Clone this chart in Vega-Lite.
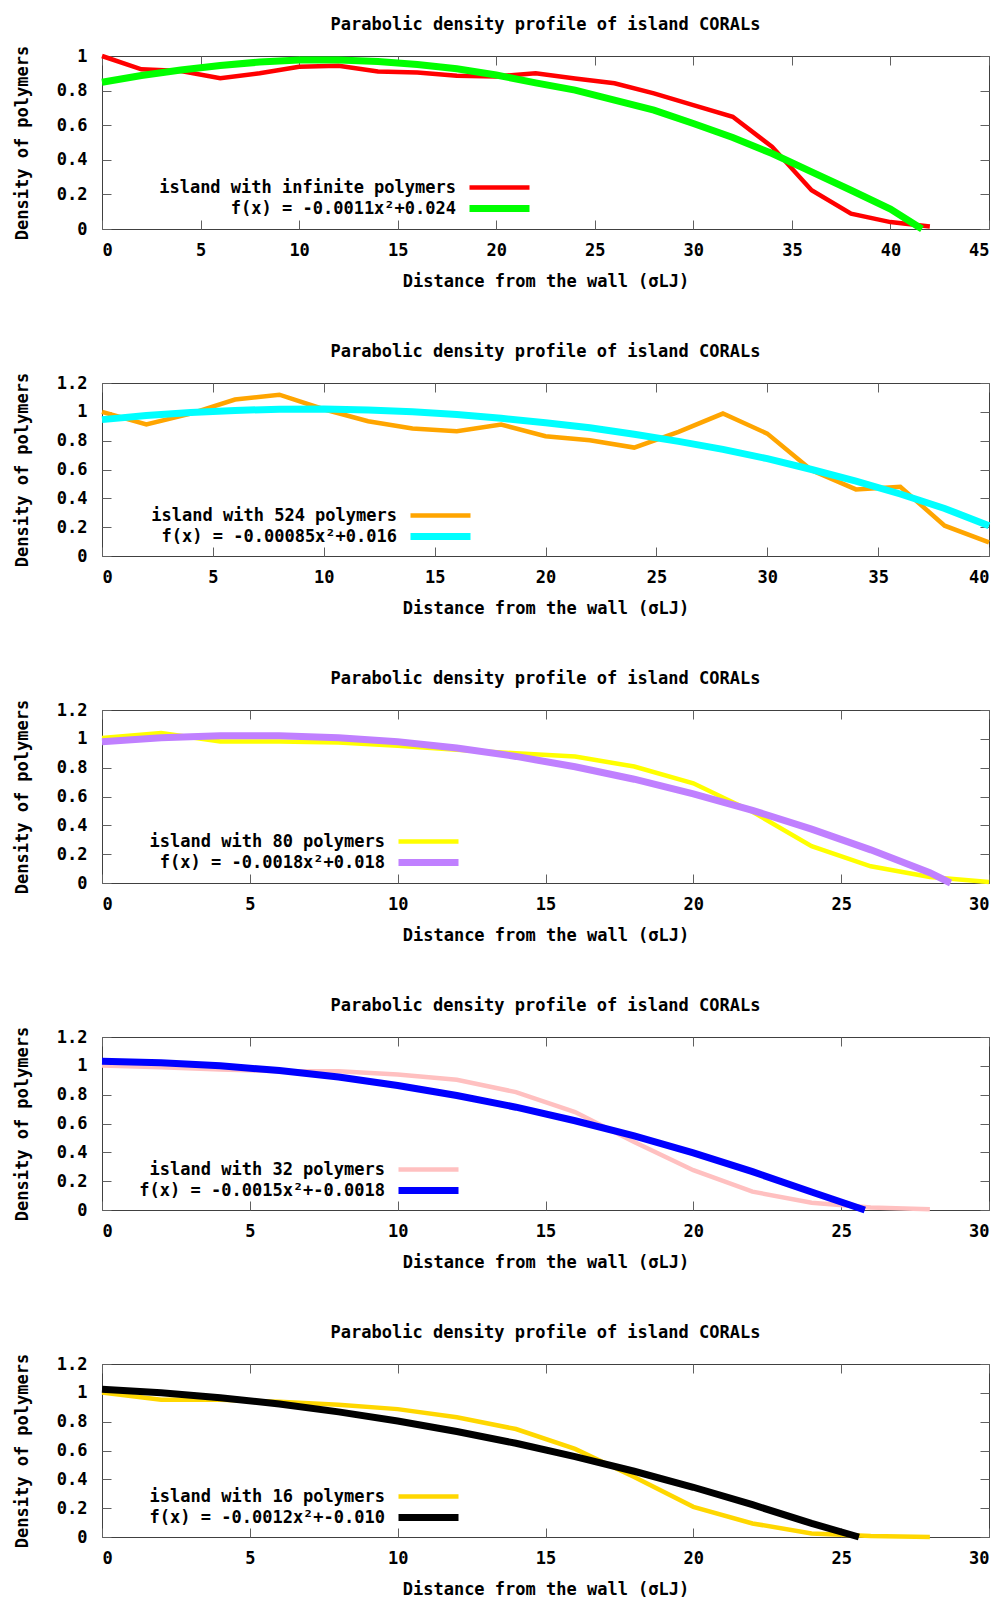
{
  "$schema": "https://vega.github.io/schema/vega-lite/v6.json",
  "padding": {"left": 12, "top": 15, "right": 5, "bottom": 5},
  "spacing": 52,
  "resolve": {"scale": {"color": "independent", "strokeWidth": "independent"}, "legend": {"color": "independent", "strokeWidth": "independent"}},
  "datasets": {
    "p1": [
      {"x": 0, "y": 1.0, "s": "island with infinite polymers"},
      {"x": 2, "y": 0.923, "s": "island with infinite polymers"},
      {"x": 4, "y": 0.913, "s": "island with infinite polymers"},
      {"x": 6, "y": 0.871, "s": "island with infinite polymers"},
      {"x": 8, "y": 0.9, "s": "island with infinite polymers"},
      {"x": 10, "y": 0.938, "s": "island with infinite polymers"},
      {"x": 12, "y": 0.944, "s": "island with infinite polymers"},
      {"x": 14, "y": 0.911, "s": "island with infinite polymers"},
      {"x": 16, "y": 0.905, "s": "island with infinite polymers"},
      {"x": 18, "y": 0.886, "s": "island with infinite polymers"},
      {"x": 20, "y": 0.882, "s": "island with infinite polymers"},
      {"x": 22, "y": 0.9, "s": "island with infinite polymers"},
      {"x": 24, "y": 0.87, "s": "island with infinite polymers"},
      {"x": 26, "y": 0.842, "s": "island with infinite polymers"},
      {"x": 28, "y": 0.784, "s": "island with infinite polymers"},
      {"x": 30, "y": 0.716, "s": "island with infinite polymers"},
      {"x": 32, "y": 0.649, "s": "island with infinite polymers"},
      {"x": 34, "y": 0.475, "s": "island with infinite polymers"},
      {"x": 36, "y": 0.224, "s": "island with infinite polymers"},
      {"x": 38, "y": 0.089, "s": "island with infinite polymers"},
      {"x": 40, "y": 0.04, "s": "island with infinite polymers"},
      {"x": 42, "y": 0.015, "s": "island with infinite polymers"},
      {"x": 0, "y": 0.848, "s": "f(x) = -0.0011x²+0.024"},
      {"x": 2, "y": 0.887, "s": "f(x) = -0.0011x²+0.024"},
      {"x": 4, "y": 0.919, "s": "f(x) = -0.0011x²+0.024"},
      {"x": 6, "y": 0.945, "s": "f(x) = -0.0011x²+0.024"},
      {"x": 8, "y": 0.965, "s": "f(x) = -0.0011x²+0.024"},
      {"x": 10, "y": 0.977, "s": "f(x) = -0.0011x²+0.024"},
      {"x": 12, "y": 0.977, "s": "f(x) = -0.0011x²+0.024"},
      {"x": 14, "y": 0.968, "s": "f(x) = -0.0011x²+0.024"},
      {"x": 16, "y": 0.951, "s": "f(x) = -0.0011x²+0.024"},
      {"x": 18, "y": 0.926, "s": "f(x) = -0.0011x²+0.024"},
      {"x": 20, "y": 0.89, "s": "f(x) = -0.0011x²+0.024"},
      {"x": 22, "y": 0.845, "s": "f(x) = -0.0011x²+0.024"},
      {"x": 24, "y": 0.803, "s": "f(x) = -0.0011x²+0.024"},
      {"x": 26, "y": 0.745, "s": "f(x) = -0.0011x²+0.024"},
      {"x": 28, "y": 0.687, "s": "f(x) = -0.0011x²+0.024"},
      {"x": 30, "y": 0.61, "s": "f(x) = -0.0011x²+0.024"},
      {"x": 32, "y": 0.529, "s": "f(x) = -0.0011x²+0.024"},
      {"x": 34, "y": 0.436, "s": "f(x) = -0.0011x²+0.024"},
      {"x": 36, "y": 0.33, "s": "f(x) = -0.0011x²+0.024"},
      {"x": 38, "y": 0.224, "s": "f(x) = -0.0011x²+0.024"},
      {"x": 40, "y": 0.115, "s": "f(x) = -0.0011x²+0.024"},
      {"x": 41.6, "y": 0.0, "s": "f(x) = -0.0011x²+0.024"}
    ],
    "p2": [
      {"x": 0, "y": 1.0, "s": "island with 524 polymers"},
      {"x": 2, "y": 0.912, "s": "island with 524 polymers"},
      {"x": 4, "y": 0.988, "s": "island with 524 polymers"},
      {"x": 6, "y": 1.085, "s": "island with 524 polymers"},
      {"x": 8, "y": 1.119, "s": "island with 524 polymers"},
      {"x": 10, "y": 1.018, "s": "island with 524 polymers"},
      {"x": 12, "y": 0.935, "s": "island with 524 polymers"},
      {"x": 14, "y": 0.884, "s": "island with 524 polymers"},
      {"x": 16, "y": 0.865, "s": "island with 524 polymers"},
      {"x": 18, "y": 0.912, "s": "island with 524 polymers"},
      {"x": 20, "y": 0.831, "s": "island with 524 polymers"},
      {"x": 22, "y": 0.803, "s": "island with 524 polymers"},
      {"x": 24, "y": 0.752, "s": "island with 524 polymers"},
      {"x": 26, "y": 0.861, "s": "island with 524 polymers"},
      {"x": 28, "y": 0.988, "s": "island with 524 polymers"},
      {"x": 30, "y": 0.849, "s": "island with 524 polymers"},
      {"x": 32, "y": 0.595, "s": "island with 524 polymers"},
      {"x": 34, "y": 0.462, "s": "island with 524 polymers"},
      {"x": 36, "y": 0.48, "s": "island with 524 polymers"},
      {"x": 38, "y": 0.21, "s": "island with 524 polymers"},
      {"x": 40, "y": 0.095, "s": "island with 524 polymers"},
      {"x": 0, "y": 0.946, "s": "f(x) = -0.00085x²+0.016"},
      {"x": 2, "y": 0.975, "s": "f(x) = -0.00085x²+0.016"},
      {"x": 4, "y": 0.995, "s": "f(x) = -0.00085x²+0.016"},
      {"x": 6, "y": 1.01, "s": "f(x) = -0.00085x²+0.016"},
      {"x": 8, "y": 1.018, "s": "f(x) = -0.00085x²+0.016"},
      {"x": 10, "y": 1.02, "s": "f(x) = -0.00085x²+0.016"},
      {"x": 12, "y": 1.013, "s": "f(x) = -0.00085x²+0.016"},
      {"x": 14, "y": 1.0, "s": "f(x) = -0.00085x²+0.016"},
      {"x": 16, "y": 0.982, "s": "f(x) = -0.00085x²+0.016"},
      {"x": 18, "y": 0.955, "s": "f(x) = -0.00085x²+0.016"},
      {"x": 20, "y": 0.925, "s": "f(x) = -0.00085x²+0.016"},
      {"x": 22, "y": 0.89, "s": "f(x) = -0.00085x²+0.016"},
      {"x": 24, "y": 0.845, "s": "f(x) = -0.00085x²+0.016"},
      {"x": 26, "y": 0.795, "s": "f(x) = -0.00085x²+0.016"},
      {"x": 28, "y": 0.74, "s": "f(x) = -0.00085x²+0.016"},
      {"x": 30, "y": 0.675, "s": "f(x) = -0.00085x²+0.016"},
      {"x": 32, "y": 0.6, "s": "f(x) = -0.00085x²+0.016"},
      {"x": 34, "y": 0.52, "s": "f(x) = -0.00085x²+0.016"},
      {"x": 36, "y": 0.43, "s": "f(x) = -0.00085x²+0.016"},
      {"x": 38, "y": 0.33, "s": "f(x) = -0.00085x²+0.016"},
      {"x": 40, "y": 0.21, "s": "f(x) = -0.00085x²+0.016"}
    ],
    "p3": [
      {"x": 0, "y": 1.005, "s": "island with 80 polymers"},
      {"x": 2, "y": 1.04, "s": "island with 80 polymers"},
      {"x": 4, "y": 0.982, "s": "island with 80 polymers"},
      {"x": 6, "y": 0.982, "s": "island with 80 polymers"},
      {"x": 8, "y": 0.975, "s": "island with 80 polymers"},
      {"x": 10, "y": 0.952, "s": "island with 80 polymers"},
      {"x": 12, "y": 0.924, "s": "island with 80 polymers"},
      {"x": 14, "y": 0.9, "s": "island with 80 polymers"},
      {"x": 16, "y": 0.877, "s": "island with 80 polymers"},
      {"x": 18, "y": 0.808, "s": "island with 80 polymers"},
      {"x": 20, "y": 0.692, "s": "island with 80 polymers"},
      {"x": 22, "y": 0.494, "s": "island with 80 polymers"},
      {"x": 24, "y": 0.255, "s": "island with 80 polymers"},
      {"x": 26, "y": 0.116, "s": "island with 80 polymers"},
      {"x": 28, "y": 0.042, "s": "island with 80 polymers"},
      {"x": 30, "y": 0.007, "s": "island with 80 polymers"},
      {"x": 0, "y": 0.979, "s": "f(x) = -0.0018x²+0.018"},
      {"x": 2, "y": 1.008, "s": "f(x) = -0.0018x²+0.018"},
      {"x": 4, "y": 1.022, "s": "f(x) = -0.0018x²+0.018"},
      {"x": 6, "y": 1.022, "s": "f(x) = -0.0018x²+0.018"},
      {"x": 8, "y": 1.008, "s": "f(x) = -0.0018x²+0.018"},
      {"x": 10, "y": 0.979, "s": "f(x) = -0.0018x²+0.018"},
      {"x": 12, "y": 0.936, "s": "f(x) = -0.0018x²+0.018"},
      {"x": 14, "y": 0.878, "s": "f(x) = -0.0018x²+0.018"},
      {"x": 16, "y": 0.806, "s": "f(x) = -0.0018x²+0.018"},
      {"x": 18, "y": 0.72, "s": "f(x) = -0.0018x²+0.018"},
      {"x": 20, "y": 0.619, "s": "f(x) = -0.0018x²+0.018"},
      {"x": 22, "y": 0.504, "s": "f(x) = -0.0018x²+0.018"},
      {"x": 24, "y": 0.374, "s": "f(x) = -0.0018x²+0.018"},
      {"x": 26, "y": 0.23, "s": "f(x) = -0.0018x²+0.018"},
      {"x": 28, "y": 0.072, "s": "f(x) = -0.0018x²+0.018"},
      {"x": 28.7, "y": 0.0, "s": "f(x) = -0.0018x²+0.018"}
    ],
    "p4": [
      {"x": 0, "y": 1.002, "s": "island with 32 polymers"},
      {"x": 2, "y": 0.99, "s": "island with 32 polymers"},
      {"x": 4, "y": 0.974, "s": "island with 32 polymers"},
      {"x": 6, "y": 0.963, "s": "island with 32 polymers"},
      {"x": 8, "y": 0.963, "s": "island with 32 polymers"},
      {"x": 10, "y": 0.94, "s": "island with 32 polymers"},
      {"x": 12, "y": 0.903, "s": "island with 32 polymers"},
      {"x": 14, "y": 0.818, "s": "island with 32 polymers"},
      {"x": 16, "y": 0.679, "s": "island with 32 polymers"},
      {"x": 18, "y": 0.472, "s": "island with 32 polymers"},
      {"x": 20, "y": 0.276, "s": "island with 32 polymers"},
      {"x": 22, "y": 0.127, "s": "island with 32 polymers"},
      {"x": 24, "y": 0.051, "s": "island with 32 polymers"},
      {"x": 26, "y": 0.018, "s": "island with 32 polymers"},
      {"x": 28, "y": 0.005, "s": "island with 32 polymers"},
      {"x": 0, "y": 1.032, "s": "f(x) = -0.0015x²+-0.0018"},
      {"x": 2, "y": 1.022, "s": "f(x) = -0.0015x²+-0.0018"},
      {"x": 4, "y": 1.001, "s": "f(x) = -0.0015x²+-0.0018"},
      {"x": 6, "y": 0.967, "s": "f(x) = -0.0015x²+-0.0018"},
      {"x": 8, "y": 0.922, "s": "f(x) = -0.0015x²+-0.0018"},
      {"x": 10, "y": 0.864, "s": "f(x) = -0.0015x²+-0.0018"},
      {"x": 12, "y": 0.794, "s": "f(x) = -0.0015x²+-0.0018"},
      {"x": 14, "y": 0.713, "s": "f(x) = -0.0015x²+-0.0018"},
      {"x": 16, "y": 0.619, "s": "f(x) = -0.0015x²+-0.0018"},
      {"x": 18, "y": 0.514, "s": "f(x) = -0.0015x²+-0.0018"},
      {"x": 20, "y": 0.396, "s": "f(x) = -0.0015x²+-0.0018"},
      {"x": 22, "y": 0.266, "s": "f(x) = -0.0015x²+-0.0018"},
      {"x": 24, "y": 0.125, "s": "f(x) = -0.0015x²+-0.0018"},
      {"x": 25.8, "y": 0.0, "s": "f(x) = -0.0015x²+-0.0018"}
    ],
    "p5": [
      {"x": 0, "y": 1.002, "s": "island with 16 polymers"},
      {"x": 2, "y": 0.952, "s": "island with 16 polymers"},
      {"x": 4, "y": 0.952, "s": "island with 16 polymers"},
      {"x": 6, "y": 0.938, "s": "island with 16 polymers"},
      {"x": 8, "y": 0.917, "s": "island with 16 polymers"},
      {"x": 10, "y": 0.887, "s": "island with 16 polymers"},
      {"x": 12, "y": 0.83, "s": "island with 16 polymers"},
      {"x": 14, "y": 0.749, "s": "island with 16 polymers"},
      {"x": 16, "y": 0.611, "s": "island with 16 polymers"},
      {"x": 18, "y": 0.416, "s": "island with 16 polymers"},
      {"x": 20, "y": 0.209, "s": "island with 16 polymers"},
      {"x": 22, "y": 0.094, "s": "island with 16 polymers"},
      {"x": 24, "y": 0.025, "s": "island with 16 polymers"},
      {"x": 26, "y": 0.007, "s": "island with 16 polymers"},
      {"x": 28, "y": 0.0, "s": "island with 16 polymers"},
      {"x": 0, "y": 1.025, "s": "f(x) = -0.0012x²+-0.010"},
      {"x": 2, "y": 1.0, "s": "f(x) = -0.0012x²+-0.010"},
      {"x": 4, "y": 0.966, "s": "f(x) = -0.0012x²+-0.010"},
      {"x": 6, "y": 0.922, "s": "f(x) = -0.0012x²+-0.010"},
      {"x": 8, "y": 0.868, "s": "f(x) = -0.0012x²+-0.010"},
      {"x": 10, "y": 0.805, "s": "f(x) = -0.0012x²+-0.010"},
      {"x": 12, "y": 0.732, "s": "f(x) = -0.0012x²+-0.010"},
      {"x": 14, "y": 0.65, "s": "f(x) = -0.0012x²+-0.010"},
      {"x": 16, "y": 0.558, "s": "f(x) = -0.0012x²+-0.010"},
      {"x": 18, "y": 0.456, "s": "f(x) = -0.0012x²+-0.010"},
      {"x": 20, "y": 0.345, "s": "f(x) = -0.0012x²+-0.010"},
      {"x": 22, "y": 0.224, "s": "f(x) = -0.0012x²+-0.010"},
      {"x": 24, "y": 0.094, "s": "f(x) = -0.0012x²+-0.010"},
      {"x": 25.6, "y": 0.0, "s": "f(x) = -0.0012x²+-0.010"}
    ]
  },
  "vconcat": [
    {
      "width": 887, "height": 173,
      "title": "Parabolic density profile of island CORALs",
      "data": {"name": "p1"},
      "layer": [
        {
          "transform": [{"filter": "datum.s == 'island with infinite polymers'"}],
          "mark": {"type": "line"},
          "encoding": {
            "x": {"field": "x", "type": "quantitative", "scale": {"domain": [0, 45], "nice": false}, "axis": {"values": [0, 5, 10, 15, 20, 25, 30, 35, 40, 45], "title": "Distance from the wall (σLJ)"}},
            "y": {"field": "y", "type": "quantitative", "scale": {"domain": [0, 1], "nice": false}, "axis": {"values": [0, 0.2, 0.4, 0.6, 0.8, 1], "title": "Density of polymers"}},
            "color": {"field": "s", "type": "nominal", "scale": {"domain": ["island with infinite polymers", "f(x) = -0.0011x²+0.024"], "range": ["#ff0000", "#00ff00"]}, "legend": {"legendX": 389, "legendY": 123}},
            "strokeWidth": {"field": "s", "type": "nominal", "scale": {"domain": ["island with infinite polymers", "f(x) = -0.0011x²+0.024"], "range": [4.5, 7]}, "legend": {"legendX": 389, "legendY": 123}}
          }
        },
        {
          "transform": [{"filter": "datum.s != 'island with infinite polymers'"}],
          "mark": {"type": "line"},
          "encoding": {
            "x": {"field": "x", "type": "quantitative", "axis": null},
            "y": {"field": "y", "type": "quantitative", "axis": null},
            "color": {"field": "s", "type": "nominal", "scale": {"domain": ["island with infinite polymers", "f(x) = -0.0011x²+0.024"], "range": ["#ff0000", "#00ff00"]}, "legend": {"legendX": 389, "legendY": 123}},
            "strokeWidth": {"field": "s", "type": "nominal", "scale": {"domain": ["island with infinite polymers", "f(x) = -0.0011x²+0.024"], "range": [4.5, 7]}, "legend": {"legendX": 389, "legendY": 123}}
          }
        },
        {
          "mark": {"type": "point", "opacity": 0},
          "encoding": {
            "x": {"field": "x", "type": "quantitative", "axis": {"orient": "top", "values": [0, 5, 10, 15, 20, 25, 30, 35, 40, 45], "labels": false, "title": null}},
            "y": {"field": "y", "type": "quantitative", "axis": {"orient": "right", "values": [0, 0.2, 0.4, 0.6, 0.8, 1], "labels": false, "title": null}}
          }
        }
      ],
      "resolve": {"axis": {"x": "independent", "y": "independent"}}
    },
    {
      "width": 887, "height": 173,
      "title": "Parabolic density profile of island CORALs",
      "data": {"name": "p2"},
      "layer": [
        {
          "transform": [{"filter": "datum.s == 'island with 524 polymers'"}],
          "mark": {"type": "line"},
          "encoding": {
            "x": {"field": "x", "type": "quantitative", "scale": {"domain": [0, 40], "nice": false}, "axis": {"values": [0, 5, 10, 15, 20, 25, 30, 35, 40], "title": "Distance from the wall (σLJ)"}},
            "y": {"field": "y", "type": "quantitative", "scale": {"domain": [0, 1.2], "nice": false}, "axis": {"values": [0, 0.2, 0.4, 0.6, 0.8, 1, 1.2], "title": "Density of polymers"}},
            "color": {"field": "s", "type": "nominal", "scale": {"domain": ["island with 524 polymers", "f(x) = -0.00085x²+0.016"], "range": ["#ffa500", "#00ffff"]}, "legend": {"legendX": 330, "legendY": 124}},
            "strokeWidth": {"field": "s", "type": "nominal", "scale": {"domain": ["island with 524 polymers", "f(x) = -0.00085x²+0.016"], "range": [4.5, 7]}, "legend": {"legendX": 330, "legendY": 124}}
          }
        },
        {
          "transform": [{"filter": "datum.s != 'island with 524 polymers'"}],
          "mark": {"type": "line"},
          "encoding": {
            "x": {"field": "x", "type": "quantitative", "axis": null},
            "y": {"field": "y", "type": "quantitative", "axis": null},
            "color": {"field": "s", "type": "nominal", "scale": {"domain": ["island with 524 polymers", "f(x) = -0.00085x²+0.016"], "range": ["#ffa500", "#00ffff"]}, "legend": {"legendX": 330, "legendY": 124}},
            "strokeWidth": {"field": "s", "type": "nominal", "scale": {"domain": ["island with 524 polymers", "f(x) = -0.00085x²+0.016"], "range": [4.5, 7]}, "legend": {"legendX": 330, "legendY": 124}}
          }
        },
        {
          "mark": {"type": "point", "opacity": 0},
          "encoding": {
            "x": {"field": "x", "type": "quantitative", "axis": {"orient": "top", "values": [0, 5, 10, 15, 20, 25, 30, 35, 40], "labels": false, "title": null}},
            "y": {"field": "y", "type": "quantitative", "axis": {"orient": "right", "values": [0, 0.2, 0.4, 0.6, 0.8, 1, 1.2], "labels": false, "title": null}}
          }
        }
      ],
      "resolve": {"axis": {"x": "independent", "y": "independent"}}
    },
    {
      "width": 887, "height": 173,
      "title": "Parabolic density profile of island CORALs",
      "data": {"name": "p3"},
      "layer": [
        {
          "transform": [{"filter": "datum.s == 'island with 80 polymers'"}],
          "mark": {"type": "line"},
          "encoding": {
            "x": {"field": "x", "type": "quantitative", "scale": {"domain": [0, 30], "nice": false}, "axis": {"values": [0, 5, 10, 15, 20, 25, 30], "title": "Distance from the wall (σLJ)"}},
            "y": {"field": "y", "type": "quantitative", "scale": {"domain": [0, 1.2], "nice": false}, "axis": {"values": [0, 0.2, 0.4, 0.6, 0.8, 1, 1.2], "title": "Density of polymers"}},
            "color": {"field": "s", "type": "nominal", "scale": {"domain": ["island with 80 polymers", "f(x) = -0.0018x²+0.018"], "range": ["#ffff00", "#c080ff"]}, "legend": {"legendX": 318, "legendY": 123}},
            "strokeWidth": {"field": "s", "type": "nominal", "scale": {"domain": ["island with 80 polymers", "f(x) = -0.0018x²+0.018"], "range": [4.5, 7]}, "legend": {"legendX": 318, "legendY": 123}}
          }
        },
        {
          "transform": [{"filter": "datum.s != 'island with 80 polymers'"}],
          "mark": {"type": "line"},
          "encoding": {
            "x": {"field": "x", "type": "quantitative", "axis": null},
            "y": {"field": "y", "type": "quantitative", "axis": null},
            "color": {"field": "s", "type": "nominal", "scale": {"domain": ["island with 80 polymers", "f(x) = -0.0018x²+0.018"], "range": ["#ffff00", "#c080ff"]}, "legend": {"legendX": 318, "legendY": 123}},
            "strokeWidth": {"field": "s", "type": "nominal", "scale": {"domain": ["island with 80 polymers", "f(x) = -0.0018x²+0.018"], "range": [4.5, 7]}, "legend": {"legendX": 318, "legendY": 123}}
          }
        },
        {
          "mark": {"type": "point", "opacity": 0},
          "encoding": {
            "x": {"field": "x", "type": "quantitative", "axis": {"orient": "top", "values": [0, 5, 10, 15, 20, 25, 30], "labels": false, "title": null}},
            "y": {"field": "y", "type": "quantitative", "axis": {"orient": "right", "values": [0, 0.2, 0.4, 0.6, 0.8, 1, 1.2], "labels": false, "title": null}}
          }
        }
      ],
      "resolve": {"axis": {"x": "independent", "y": "independent"}}
    },
    {
      "width": 887, "height": 173,
      "title": "Parabolic density profile of island CORALs",
      "data": {"name": "p4"},
      "layer": [
        {
          "transform": [{"filter": "datum.s == 'island with 32 polymers'"}],
          "mark": {"type": "line"},
          "encoding": {
            "x": {"field": "x", "type": "quantitative", "scale": {"domain": [0, 30], "nice": false}, "axis": {"values": [0, 5, 10, 15, 20, 25, 30], "title": "Distance from the wall (σLJ)"}},
            "y": {"field": "y", "type": "quantitative", "scale": {"domain": [0, 1.2], "nice": false}, "axis": {"values": [0, 0.2, 0.4, 0.6, 0.8, 1, 1.2], "title": "Density of polymers"}},
            "color": {"field": "s", "type": "nominal", "scale": {"domain": ["island with 32 polymers", "f(x) = -0.0015x²+-0.0018"], "range": ["#ffc0c0", "#0000ff"]}, "legend": {"legendX": 318, "legendY": 124}},
            "strokeWidth": {"field": "s", "type": "nominal", "scale": {"domain": ["island with 32 polymers", "f(x) = -0.0015x²+-0.0018"], "range": [4.5, 7]}, "legend": {"legendX": 318, "legendY": 124}}
          }
        },
        {
          "transform": [{"filter": "datum.s != 'island with 32 polymers'"}],
          "mark": {"type": "line"},
          "encoding": {
            "x": {"field": "x", "type": "quantitative", "axis": null},
            "y": {"field": "y", "type": "quantitative", "axis": null},
            "color": {"field": "s", "type": "nominal", "scale": {"domain": ["island with 32 polymers", "f(x) = -0.0015x²+-0.0018"], "range": ["#ffc0c0", "#0000ff"]}, "legend": {"legendX": 318, "legendY": 124}},
            "strokeWidth": {"field": "s", "type": "nominal", "scale": {"domain": ["island with 32 polymers", "f(x) = -0.0015x²+-0.0018"], "range": [4.5, 7]}, "legend": {"legendX": 318, "legendY": 124}}
          }
        },
        {
          "mark": {"type": "point", "opacity": 0},
          "encoding": {
            "x": {"field": "x", "type": "quantitative", "axis": {"orient": "top", "values": [0, 5, 10, 15, 20, 25, 30], "labels": false, "title": null}},
            "y": {"field": "y", "type": "quantitative", "axis": {"orient": "right", "values": [0, 0.2, 0.4, 0.6, 0.8, 1, 1.2], "labels": false, "title": null}}
          }
        }
      ],
      "resolve": {"axis": {"x": "independent", "y": "independent"}}
    },
    {
      "width": 887, "height": 173,
      "title": "Parabolic density profile of island CORALs",
      "data": {"name": "p5"},
      "layer": [
        {
          "transform": [{"filter": "datum.s == 'island with 16 polymers'"}],
          "mark": {"type": "line"},
          "encoding": {
            "x": {"field": "x", "type": "quantitative", "scale": {"domain": [0, 30], "nice": false}, "axis": {"values": [0, 5, 10, 15, 20, 25, 30], "title": "Distance from the wall (σLJ)"}},
            "y": {"field": "y", "type": "quantitative", "scale": {"domain": [0, 1.2], "nice": false}, "axis": {"values": [0, 0.2, 0.4, 0.6, 0.8, 1, 1.2], "title": "Density of polymers"}},
            "color": {"field": "s", "type": "nominal", "scale": {"domain": ["island with 16 polymers", "f(x) = -0.0012x²+-0.010"], "range": ["#ffd700", "#000000"]}, "legend": {"legendX": 318, "legendY": 124}},
            "strokeWidth": {"field": "s", "type": "nominal", "scale": {"domain": ["island with 16 polymers", "f(x) = -0.0012x²+-0.010"], "range": [4.5, 7]}, "legend": {"legendX": 318, "legendY": 124}}
          }
        },
        {
          "transform": [{"filter": "datum.s != 'island with 16 polymers'"}],
          "mark": {"type": "line"},
          "encoding": {
            "x": {"field": "x", "type": "quantitative", "axis": null},
            "y": {"field": "y", "type": "quantitative", "axis": null},
            "color": {"field": "s", "type": "nominal", "scale": {"domain": ["island with 16 polymers", "f(x) = -0.0012x²+-0.010"], "range": ["#ffd700", "#000000"]}, "legend": {"legendX": 318, "legendY": 124}},
            "strokeWidth": {"field": "s", "type": "nominal", "scale": {"domain": ["island with 16 polymers", "f(x) = -0.0012x²+-0.010"], "range": [4.5, 7]}, "legend": {"legendX": 318, "legendY": 124}}
          }
        },
        {
          "mark": {"type": "point", "opacity": 0},
          "encoding": {
            "x": {"field": "x", "type": "quantitative", "axis": {"orient": "top", "values": [0, 5, 10, 15, 20, 25, 30], "labels": false, "title": null}},
            "y": {"field": "y", "type": "quantitative", "axis": {"orient": "right", "values": [0, 0.2, 0.4, 0.6, 0.8, 1, 1.2], "labels": false, "title": null}}
          }
        }
      ],
      "resolve": {"axis": {"x": "independent", "y": "independent"}}
    }
  ],
  "config": {
    "font": "DejaVu Sans Mono",
    "view": {"stroke": "#404040", "strokeWidth": 1},
    "title": {"font": "DejaVu Sans Mono", "fontSize": 17, "fontWeight": "bold", "color": "#000000", "offset": 11, "frame": "group", "anchor": "middle"},
    "axis": {
      "domain": false, "grid": false,
      "tickSize": -9, "tickColor": "#606060", "tickWidth": 1,
      "labelFont": "DejaVu Sans Mono", "labelFontSize": 17, "labelFontWeight": "bold", "labelColor": "#000000",
      "titleFont": "DejaVu Sans Mono", "titleFontSize": 17, "titleFontWeight": "bold", "titleColor": "#000000"
    },
    "axisX": {"labelPadding": 22, "titlePadding": 15, "format": "~g"},
    "axisY": {"labelPadding": 24, "titlePadding": 25, "format": ".1~f"},
    "legend": {
      "orient": "none", "title": null, "symbolType": "M-6,0H6", "symbolSize": 100,
      "labelAlign": "right", "labelOffset": -52, "labelFont": "DejaVu Sans Mono", "labelFontSize": 17, "labelFontWeight": "bold", "labelColor": "#000000",
      "labelLimit": 1000, "rowPadding": -3, "padding": 0, "offset": 0
    }
  }
}
